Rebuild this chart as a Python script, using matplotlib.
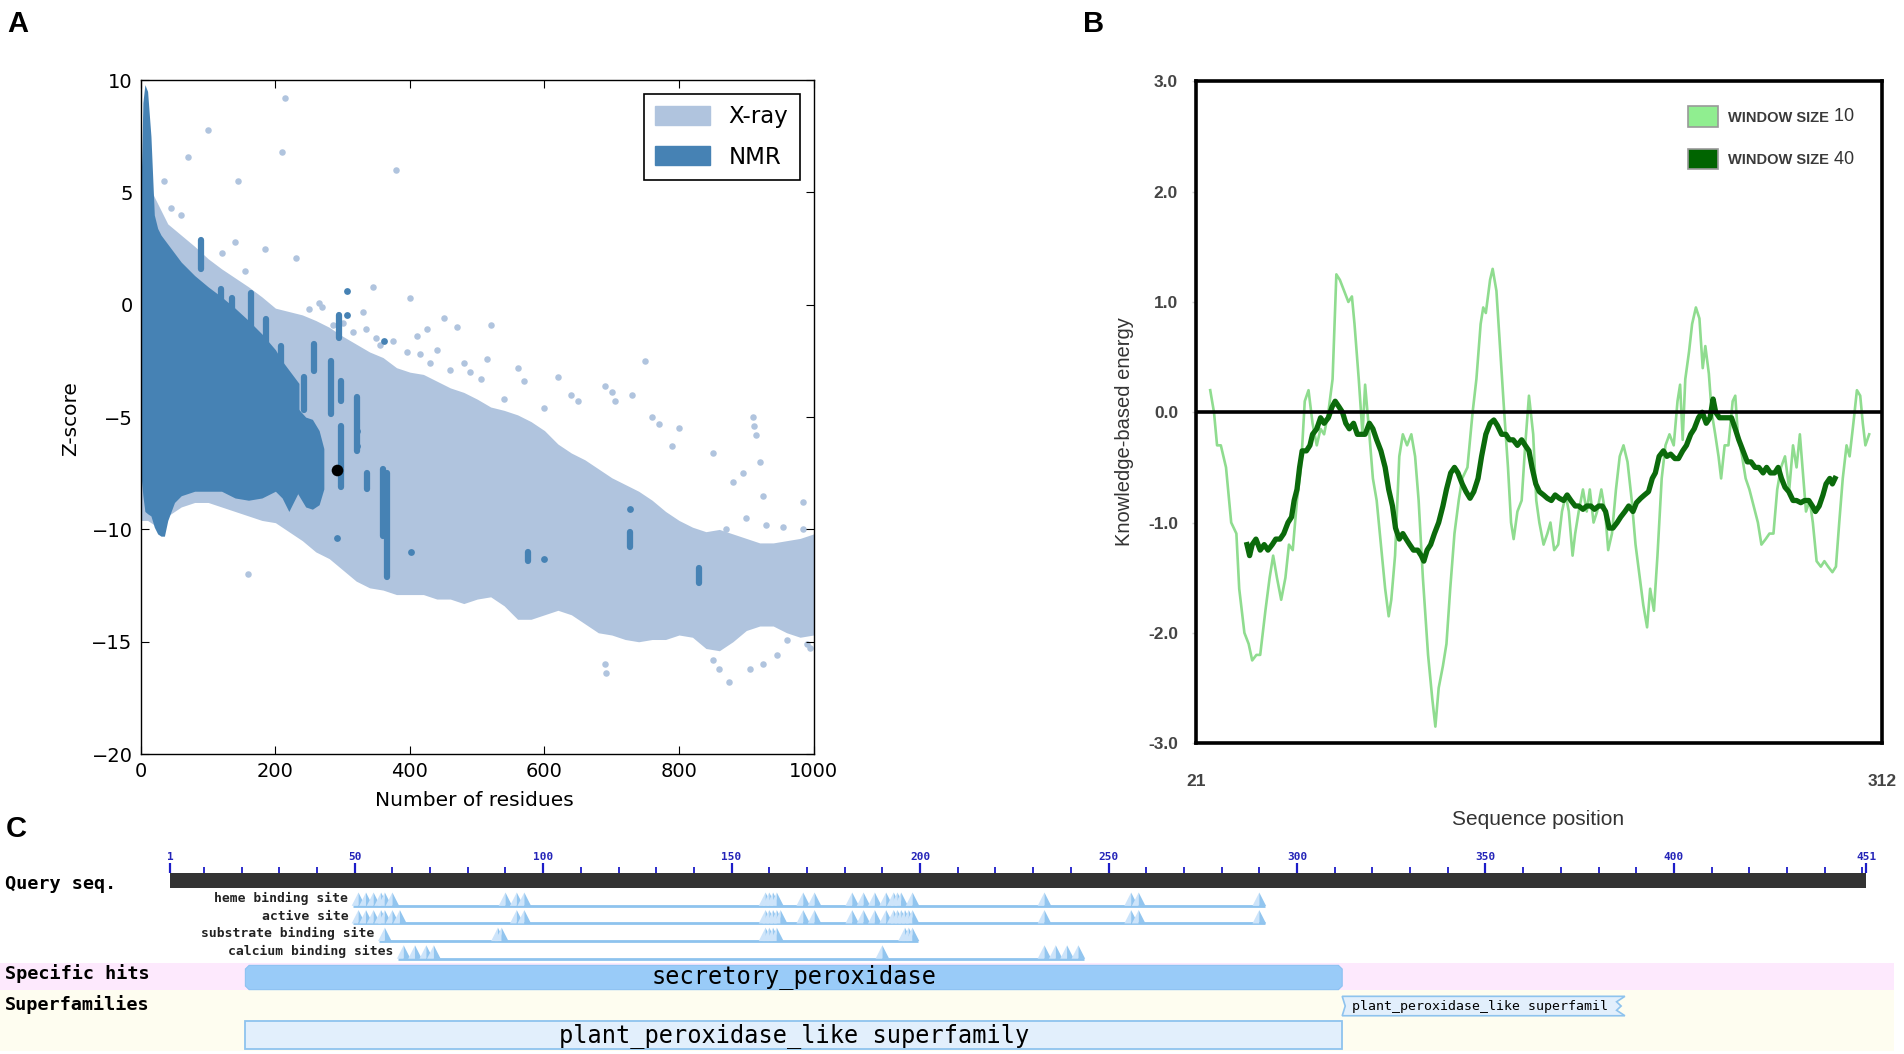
import matplotlib
matplotlib.use('Agg')
import matplotlib.pyplot as plt
from matplotlib.patches import Rectangle, Polygon, Patch

# ---------------- Panel A data (Z-score vs number of residues) ----------------
xray_x = [0, 10, 20, 40, 60, 80, 100, 120, 140, 160, 180, 200, 220, 240, 260, 280, 300,
          320, 340, 360, 380, 400, 420, 440, 460, 480, 500, 520, 540, 560, 580, 600, 620,
          640, 660, 680, 700, 720, 740, 760, 780, 800, 820, 840, 860, 880, 900, 920, 940,
          960, 980, 1000]
xray_upper = [5.0, 5.5, 4.8, 3.6, 3.1, 2.6, 2.05, 1.6, 1.2, 0.8, 0.35, -0.15, -0.3, -0.45,
              -0.7, -1.0, -1.4, -1.75, -2.1, -2.35, -2.8, -3.0, -3.1, -3.4, -3.7, -3.9, -4.2,
              -4.55, -4.7, -4.9, -5.2, -5.6, -6.2, -6.6, -6.9, -7.3, -7.7, -8.0, -8.3, -8.7,
              -9.2, -9.6, -9.9, -10.1, -10.0, -10.2, -10.4, -10.6, -10.6, -10.5, -10.4, -10.2]
xray_lower = [-9.6, -9.6, -9.8, -9.4, -9.0, -8.8, -8.8, -9.0, -9.2, -9.4, -9.6, -9.7, -10.1,
              -10.5, -11.0, -11.3, -11.8, -12.3, -12.6, -12.7, -12.9, -12.9, -12.9, -13.1,
              -13.1, -13.3, -13.1, -13.0, -13.4, -14.0, -14.0, -13.8, -13.6, -13.8, -14.2,
              -14.6, -14.7, -14.9, -15.0, -14.9, -14.9, -14.7, -14.8, -15.3, -15.4, -15.0,
              -14.5, -14.3, -14.3, -14.6, -14.8, -14.7]
xray_out_x = [215, 210, 100, 70, 380, 145, 35, 140, 230, 155, 185, 345, 400, 450, 470, 520,
              425, 415, 560, 570, 620, 640, 690, 700, 750, 705, 730, 760, 770, 790, 800, 850,
              880, 895, 910, 912, 914, 920, 925, 985, 160, 690, 691, 850, 860, 875, 905, 925,
              945, 960, 990, 995, 980, 960, 990, 1000, 940, 870, 900, 930, 955, 985, 600, 650,
              540, 480, 330, 300, 250, 120, 60, 45, 270, 285, 315, 335, 355, 375, 395, 410,
              430, 440, 460, 490, 505, 515, 265, 350]
xray_out_y = [9.2, 6.8, 7.8, 6.6, 6.0, 5.5, 5.5, 2.8, 2.1, 1.5, 2.5, 0.8, 0.3, -0.6, -1.0,
              -0.9, -1.1, -2.2, -2.8, -3.4, -3.2, -4.0, -3.6, -3.9, -2.5, -4.3, -4.0, -5.0,
              -5.3, -6.3, -5.5, -6.6, -7.9, -7.5, -5.0, -5.4, -5.8, -7.0, -8.5, -8.8, -12.0,
              -16.0, -16.4, -15.8, -16.2, -16.8, -16.2, -16.0, -15.6, -14.9, -15.1, -15.3,
              -13.5, -11.0, -11.5, -11.0, -12.0, -10.0, -9.5, -9.8, -9.9, -10.0, -4.6, -4.3,
              -4.2, -2.6, -0.3, -0.8, -0.2, 2.3, 4.0, 4.3, -0.1, -0.9, -1.2, -1.1, -1.8,
              -1.6, -2.1, -1.4, -2.6, -2.0, -2.9, -3.0, -3.3, -2.4, 0.1, -1.5]

nmr_x = [0, 3, 6, 10, 15, 20, 25, 30, 35, 40, 50, 60, 80, 100, 120, 140, 160, 180, 200,
         210, 220, 230, 235]
nmr_upper = [4.8, 9.0, 9.8, 9.5, 7.5, 4.0, 3.4, 3.1, 2.9, 2.7, 2.3, 1.9, 1.3, 0.8, 0.35,
             -0.15, -0.7, -1.3, -2.0, -2.5, -2.9, -3.3, -3.5]
nmr_lower = [-7.5, -8.5, -9.2, -9.3, -9.4, -9.9, -10.2, -10.3, -10.3, -9.6, -8.8, -8.5, -8.3,
             -8.3, -8.3, -8.6, -8.7, -8.6, -8.3, -8.6, -9.2, -8.6, -8.3]
nmr2_x = [233, 245, 255, 265, 272]
nmr2_upper = [-4.6, -5.0, -5.1, -5.6, -6.4]
nmr2_lower = [-8.4, -9.0, -9.1, -8.9, -8.2]
nmr_streak_x = [89, 119, 136, 163, 186, 208, 243, 257, 282, 295, 297, 297, 322, 336, 360, 366,
                727, 830, 575]
nmr_streak_lo = [1.6, -0.45, -0.8, -1.4, -2.1, -3.3, -4.7, -2.95, -4.85, -1.5, -4.3, -8.1,
                 -6.5, -8.2, -10.3, -12.1, -10.8, -12.4, -11.4]
nmr_streak_hi = [2.9, 0.7, 0.3, 0.54, -0.65, -1.85, -3.2, -1.75, -2.5, -0.45, -3.4, -5.4,
                 -4.1, -7.5, -7.3, -7.5, -10.1, -11.7, -11.0]
nmr_dot_x = [292, 307, 307, 361, 401, 600, 727, 322, 322]
nmr_dot_y = [-10.4, 0.6, -0.45, -1.6, -11.0, -11.3, -9.1, -5.6, -6.3]
target_x = [291]
target_y = [-7.35]

# ---------------- Panel B data (knowledge-based energy) ----------------
w10_x = [27.0, 28.6, 29.9, 31.5, 33.7, 35.9, 38.1, 39.3, 41.5, 43.3, 44.8, 46.6, 48.2, 50.4,
         52.2, 53.7, 55.3, 57.1, 58.9, 60.4, 62.0, 63.8, 65.5, 67.1, 68.7, 70.4, 72.2, 73.8,
         75.3, 77.1, 78.9, 80.5, 82.0, 83.8, 85.6, 87.1, 88.2, 90.0, 91.6, 92.7, 94.5, 96.0,
         97.6, 99.4, 101.2, 102.7, 103.8, 105.4, 107.2, 108.7, 110.5, 112.3, 113.9, 115.4,
         117.2, 119.4, 121.2, 122.5, 123.9, 125.7, 127.2, 128.8, 130.6, 132.4, 133.9, 136.1,
         138.3, 139.9, 141.7, 142.8, 143.9, 145.7, 146.8, 148.4, 149.9, 151.7, 153.3, 154.6,
         155.7, 157.3, 159.1, 160.6, 162.2, 164.0, 165.3, 166.6, 168.4, 170.0, 171.3, 172.9,
         174.6, 176.2, 177.8, 179.1, 180.7, 181.8, 183.3, 185.1, 186.7, 188.0, 189.6, 191.1,
         192.9, 194.5, 195.8, 197.4, 199.1, 200.7, 202.3, 204.0, 205.8, 207.4, 209.2, 210.7,
         212.3, 213.6, 215.2, 216.7, 218.5, 220.1, 221.8, 223.6, 225.2, 226.3, 227.4, 228.5,
         230.1, 231.4, 233.0, 234.5, 235.9, 237.0, 238.5, 239.7, 241.2, 242.6, 243.7, 245.2,
         246.8, 248.6, 249.7, 250.8, 252.6, 254.1, 255.7, 257.5, 259.3, 260.8, 262.6, 264.2,
         265.9, 267.5, 269.1, 270.8, 272.6, 274.2, 275.7, 277.1, 278.6, 279.7, 281.3, 282.6,
         284.2, 286.0, 287.5, 289.1, 290.9, 292.4, 293.8, 295.3, 296.9, 298.2, 299.8, 301.3,
         302.7, 303.8, 304.9, 306.5]
w10_y = [0.2, 0.0, -0.3, -0.3, -0.5, -1.0, -1.1, -1.6, -2.0, -2.1,
         -2.25, -2.2, -2.2, -1.8, -1.5, -1.3, -1.5, -1.7, -1.5, -1.2,
         -1.25, -0.8, -0.5, 0.1, 0.2, -0.1, -0.3, -0.15, -0.2, 0.0,
         0.3, 1.25, 1.2, 1.1, 1.0, 1.05, 0.8, 0.3, -0.2, 0.25,
         -0.2, -0.6, -0.8, -1.2, -1.6, -1.85, -1.7, -1.3, -0.4, -0.2,
         -0.3, -0.2, -0.4, -0.8, -1.5, -2.2, -2.6, -2.85, -2.5, -2.3,
         -2.1, -1.6, -1.1, -0.8, -0.6, -0.5, 0.0, 0.3, 0.8, 0.95,
         0.9, 1.2, 1.3, 1.1, 0.6, 0.0, -0.5, -1.0, -1.15, -0.9,
         -0.8, -0.3, 0.15, -0.2, -0.8, -1.0, -1.2, -1.1, -1.0, -1.25,
         -1.2, -0.9, -0.75, -0.9, -1.3, -1.1, -0.9, -0.7, -0.9, -0.7,
         -1.0, -0.9, -0.7, -0.9, -1.25, -1.1, -0.7, -0.4, -0.3, -0.45,
         -0.8, -1.2, -1.5, -1.75, -1.95, -1.6, -1.8, -1.3, -0.6, -0.3,
         -0.2, -0.3, 0.1, 0.25, -0.25, 0.3, 0.55, 0.8, 0.95, 0.85,
         0.4, 0.6, 0.35, 0.0, -0.2, -0.4, -0.6, -0.3, -0.3, 0.1,
         0.15, -0.2, -0.4, -0.6, -0.7, -0.85, -1.0, -1.2, -1.15, -1.1,
         -1.1, -0.7, -0.5, -0.4, -0.7, -0.3, -0.5, -0.2, -0.6, -0.9,
         -0.8, -1.0, -1.35, -1.4, -1.35, -1.4, -1.45, -1.4, -1.0, -0.6,
         -0.3, -0.4, -0.1, 0.2, 0.15, -0.1, -0.3, -0.2]
w40_x = [42.6, 43.7, 44.8, 46.4, 48.2, 49.9, 51.5, 53.3, 54.8, 56.6, 58.2, 60.0, 61.5, 62.6,
         63.8, 64.9, 66.0, 67.8, 69.3, 70.4, 72.2, 73.8, 75.3, 77.1, 78.7, 80.0, 81.6, 83.1,
         84.5, 86.0, 87.8, 89.4, 90.9, 92.7, 94.5, 96.0, 97.6, 99.4, 101.2, 102.7, 104.3,
         105.6, 107.2, 108.7, 110.1, 111.6, 113.2, 115.0, 116.5, 117.6, 119.0, 120.5, 122.1,
         123.9, 125.7, 127.2, 129.0, 130.6, 132.1, 133.9, 135.5, 137.2, 138.8, 140.6, 142.1,
         143.9, 145.7, 147.3, 148.8, 150.6, 152.4, 153.9, 155.5, 157.3, 159.1, 160.6, 162.2,
         163.5, 165.1, 166.6, 168.4, 170.0, 171.7, 173.3, 175.1, 176.9, 178.4, 180.0, 181.8,
         183.3, 185.1, 186.7, 188.4, 190.0, 191.8, 193.3, 194.7, 196.2, 197.8, 199.6, 201.1,
         202.9, 204.5, 206.3, 207.8, 209.6, 211.2, 212.9, 214.5, 215.8, 217.4, 219.2, 220.7,
         222.3, 224.1, 225.6, 227.4, 229.0, 230.8, 232.3, 234.1, 235.7, 237.4, 239.0, 240.3,
         241.4, 243.0, 244.6, 246.3, 248.1, 249.7, 251.2, 253.0, 254.8, 256.4, 258.1, 259.7,
         261.5, 263.0, 264.6, 266.4, 267.9, 269.3, 270.8, 272.4, 274.2, 275.7, 277.5, 279.1,
         280.9, 282.4, 283.7, 285.3, 286.9, 288.2, 289.8, 290.9, 292.0]
w40_y = [-1.2, -1.3, -1.2, -1.15, -1.25, -1.2, -1.25, -1.2, -1.15, -1.15,
         -1.1, -1.0, -0.95, -0.8, -0.7, -0.5, -0.35, -0.35, -0.3, -0.2,
         -0.15, -0.05, -0.1, -0.05, 0.05, 0.1, 0.05, 0.0, -0.1, -0.15,
         -0.1, -0.2, -0.2, -0.2, -0.1, -0.15, -0.25, -0.35, -0.5, -0.7,
         -0.85, -1.05, -1.15, -1.1, -1.15, -1.2, -1.25, -1.25, -1.3, -1.35,
         -1.25, -1.2, -1.1, -1.0, -0.85, -0.7, -0.55, -0.5, -0.55, -0.65,
         -0.72, -0.78, -0.72, -0.6, -0.4, -0.2, -0.1, -0.07, -0.12, -0.2,
         -0.2, -0.25, -0.25, -0.3, -0.25, -0.3, -0.35, -0.5, -0.65, -0.72,
         -0.75, -0.78, -0.8, -0.75, -0.78, -0.8, -0.75, -0.8, -0.85, -0.85,
         -0.88, -0.85, -0.85, -0.88, -0.85, -0.85, -0.9, -1.05, -1.05, -1.0,
         -0.95, -0.9, -0.85, -0.9, -0.82, -0.78, -0.75, -0.72, -0.6, -0.55,
         -0.4, -0.35, -0.4, -0.38, -0.42, -0.42, -0.35, -0.3, -0.2, -0.15,
         -0.05, 0.0, -0.1, -0.05, 0.12, 0.0, -0.05, -0.05, -0.05, -0.05,
         -0.15, -0.25, -0.35, -0.45, -0.45, -0.5, -0.5, -0.55, -0.5, -0.55,
         -0.55, -0.5, -0.6, -0.68, -0.72, -0.8, -0.8, -0.82, -0.8, -0.8,
         -0.85, -0.9, -0.85, -0.75, -0.65, -0.6, -0.65, -0.6]
b_yticks = [3.0, 2.0, 1.0, 0.0, -1.0, -2.0, -3.0]
b_xticks = [21, 312]

# ---------------- Panel C data (conserved domains) ----------------
seq_len = 451
ruler_labels = [1, 50, 100, 150, 200, 250, 300, 350, 400, 451]
ruler_minor = [r for r in range(10, 451, 10) if r % 50 != 0] + [450]
track_names = ['heme binding site', 'active site', 'substrate binding site', 'calcium binding sites']
track_sites = [
    [51, 53, 55, 57, 58, 60, 90, 93, 95, 159, 160, 161, 162, 169, 172, 182, 185, 188, 191,
     193, 194, 195, 198, 233, 256, 258, 290],
    [51, 53, 55, 57, 58, 60, 62, 93, 95, 159, 160, 161, 162, 163, 169, 172, 182, 185, 188,
     191, 193, 194, 195, 196, 197, 198, 233, 256, 258, 290],
    [58, 88, 89, 159, 160, 161, 162, 196, 197, 198],
    [63, 66, 69, 71, 190, 233, 236, 239, 242],
]
specific_hit = ('secretory_peroxidase', 21, 312)
superfamily_main = ('plant_peroxidase_like superfamily', 21, 312)
superfamily_small = ('plant_peroxidase_like superfamil', 312, 387)

# ---------------- layout helpers (reference grid 1568 x 868) ----------------
GW, GH = 1568.0, 868.0
def fx(px):
    return px / GW
def fy(py):
    return 1.0 - py / GH

fig = plt.figure(figsize=(19.04, 10.54), dpi=100)
fig.patch.set_facecolor('white')

XRAY_C = '#b0c4de'
NMR_C = '#4682b4'

# ================= Panel A =================
axA = fig.add_axes([fx(116), fy(621), fx(670) - fx(116), fy(66) - fy(621)])
axA.fill_between(xray_x, xray_lower, xray_upper, color=XRAY_C, lw=0, zorder=1)
axA.scatter(xray_out_x, xray_out_y, s=22, color=XRAY_C, lw=0, zorder=1)
axA.fill_between(nmr_x, nmr_lower, nmr_upper, color=NMR_C, lw=0, zorder=2)
axA.fill_between(nmr2_x, nmr2_lower, nmr2_upper, color=NMR_C, lw=0, zorder=2)
axA.vlines(nmr_streak_x, nmr_streak_lo, nmr_streak_hi, color=NMR_C, lw=4.5,
           capstyle='round', zorder=2)
axA.scatter(nmr_dot_x, nmr_dot_y, s=24, color=NMR_C, lw=0, zorder=2)
axA.scatter(target_x, target_y, s=70, color='black', lw=0, zorder=4)
axA.set_xlim(0, 1000)
axA.set_ylim(-20, 10)
axA.set_xticks([0, 200, 400, 600, 800, 1000])
axA.set_yticks([-20, -15, -10, -5, 0, 5, 10])
axA.set_yticklabels(['\u221220', '\u221215', '\u221210', '\u22125', '0', '5', '10'])
axA.tick_params(direction='in', top=True, right=True, length=6, width=0.8,
                labelsize=14, pad=6, colors='black')
for s in axA.spines.values():
    s.set_linewidth(1.0)
    s.set_color('black')
legA = axA.legend(handles=[Patch(facecolor=XRAY_C, edgecolor=XRAY_C, label='X-ray'),
                           Patch(facecolor=NMR_C, edgecolor=NMR_C, label='NMR')],
                  loc='upper right', fontsize=16.5, fancybox=False, framealpha=1,
                  edgecolor='black', handlelength=2.4, handleheight=0.9,
                  borderaxespad=0.6, labelspacing=0.75, handletextpad=0.8,
                  borderpad=0.5)
legA.get_frame().set_linewidth(1.2)
fig.text(fx(391), fy(659), 'Number of residues', fontsize=14.5, ha='center', va='center')
fig.text(fx(58), fy(345), 'Z-score', fontsize=14.5, ha='center', va='center', rotation=90)

# ================= Panel B =================
BF = ['Liberation Sans', 'DejaVu Sans']
axB = fig.add_axes([fx(985), fy(612), fx(1550) - fx(985), fy(67) - fy(612)])
axB.plot(w10_x, w10_y, color='#8fdc8f', lw=1.9, zorder=2)
axB.plot(w40_x, w40_y, color='#0b6a0b', lw=3.8, zorder=3, solid_joinstyle='round')
axB.axhline(0, color='black', lw=2.6, zorder=4)
axB.set_xlim(21, 312)
axB.set_ylim(-3, 3)
axB.set_yticks(b_yticks)
axB.set_yticklabels(['%.1f' % v for v in b_yticks], fontfamily=BF, fontweight='bold')
axB.set_xticks(b_xticks)
axB.set_xticklabels([str(v) for v in b_xticks], fontfamily=BF, fontweight='bold')
axB.tick_params(axis='y', length=3, width=1, color='#d0d0d0', pad=10, labelsize=12.5,
                labelcolor='#444444')
axB.tick_params(axis='x', length=0, pad=22, labelsize=12.5, labelcolor='#444444')
for s in axB.spines.values():
    s.set_linewidth(2.6)
    s.set_color('black')
fig.text(fx(926), fy(355), 'Knowledge-based energy', fontsize=14.5, ha='center', va='center',
         rotation=90, family=BF, color='#333333')
fig.text(fx(1267), fy(675), 'Sequence position', fontsize=15, ha='center', va='center',
         family=BF, color='#333333')
# legend (small caps style)
leg_items = [('#90ee90', '10', 96), ('#006400', '40', 131)]
for col, num, ypix in leg_items:
    y_ax = 1 - (ypix - 67) / (612 - 67)
    axB.add_patch(Rectangle(((1390 - 985) / 565.0, y_ax - 0.0155), 25 / 565.0, 0.031,
                            transform=axB.transAxes, facecolor=col, edgecolor='#999999',
                            lw=1.2, zorder=5))
    t = axB.text((1423 - 985) / 565.0, y_ax - 0.002, 'WINDOW SIZE', transform=axB.transAxes,
                 fontsize=10.5, family=BF, fontweight='bold', color='#3a3a3a',
                 ha='left', va='center', zorder=5)
    axB.annotate(' ' + num, xy=(1, -0.02), xycoords=t, fontsize=13, family=BF,
                 color='#333333', ha='left', va='bottom', zorder=5)

# panel letters
fig.text(fx(6), fy(20), 'A', fontsize=21, fontweight='bold', family=BF, ha='left', va='center')
fig.text(fx(892), fy(20), 'B', fontsize=21, fontweight='bold', family=BF, ha='left', va='center')
fig.text(fx(5), fy(683), 'C', fontsize=21, fontweight='bold', family=BF, ha='left', va='center')

# ================= Panel C =================
MONO = 'DejaVu Sans Mono'
def r_at(px):
    return 1 + (px - 140) / 3.104
axC = fig.add_axes([0, 0, 1, (GH - 668) / GH])
axC.set_xlim(r_at(0), r_at(GW))
axC.set_ylim(GH, 668)
axC.axis('off')

left_r, right_r = r_at(0), r_at(1560)
axC.add_patch(Rectangle((left_r, 793), right_r - left_r, 22.5, facecolor='#fde9fd',
                        edgecolor='none', zorder=0))
axC.add_patch(Rectangle((left_r, 815.5), right_r - left_r, 50, facecolor='#fefdf0',
                        edgecolor='none', zorder=0))

# ruler
axC.add_patch(Rectangle((1, 719), seq_len - 1, 12.5, facecolor='#333333', edgecolor='none',
                        zorder=2))
axC.vlines(ruler_minor, 714, 719, color='#1c1cc8', lw=1.3, zorder=2)
axC.vlines(ruler_labels, 710.5, 719, color='#1c1cc8', lw=1.6, zorder=2)
for r in ruler_labels:
    axC.text(r, 705.5, str(r), fontsize=8, family=MONO, fontweight='bold', color='#2424b8',
             ha='center', va='center')

rowfont = dict(fontsize=13.3, family=MONO, fontweight='bold', color='black',
               ha='left', va='center')
axC.text(r_at(4), 728, 'Query seq.', **rowfont)
axC.text(r_at(4), 802, 'Specific hits', **rowfont)
axC.text(r_at(4), 827, 'Superfamilies', **rowfont)

# feature tracks
line_ys = [746, 760.5, 775, 789.5]
for name, sites, ly in zip(track_names, track_sites, line_ys):
    start, end = min(sites) - 1.5, max(sites) + 1.5
    axC.hlines(ly, start, end, color='#8ec3ee', lw=2.0, zorder=2)
    for s in sites:
        axC.add_patch(Polygon([(s - 1.8, ly), (s, ly - 11), (s, ly)], closed=True,
                              facecolor='#cde4fa', edgecolor='none', zorder=3))
        axC.add_patch(Polygon([(s, ly - 11), (s + 1.8, ly), (s, ly)], closed=True,
                              facecolor='#92c5ef', edgecolor='none', zorder=3))
    axC.text(start - 1.2, ly - 6, name, fontsize=9.4, family=MONO, fontweight='bold',
             color='#222222', ha='right', va='center')

# specific hit bar
nm, a, b = specific_hit
axC.add_patch(Polygon([(a + 1.0, 795), (b - 1.0, 795), (b, 798), (b, 812), (b - 1.0, 815),
                       (a + 1.0, 815), (a, 812), (a, 798)], closed=True,
                      facecolor='#99cbf8', edgecolor='#8cc2f2', lw=0.8, zorder=2))
axC.text((a + b) / 2, 804, nm, fontsize=17, family=MONO, color='black',
         ha='center', va='center', zorder=3)

# superfamilies
nm, a, b = superfamily_main
axC.add_patch(Rectangle((a, 840.5), b - a, 23, facecolor='#e2effc', edgecolor='#8ec3ee',
                        lw=1.3, zorder=2))
axC.text((a + b) / 2, 852.5, nm, fontsize=17, family=MONO, color='black',
         ha='center', va='center', zorder=3)
nm, a, b = superfamily_small
axC.add_patch(Polygon([(a, 820.5), (b, 820.5), (b - 2.2, 825), (b - 1.0, 828.5),
                       (b - 2.2, 832), (b, 836.5), (a, 836.5), (a + 0.8, 828.5)], closed=True,
                      facecolor='#e2effc', edgecolor='#8ec3ee', lw=1.2, zorder=2))
axC.text(a + 2.5, 828.5, nm, fontsize=9.5, family=MONO, color='black',
         ha='left', va='center', zorder=3)

fig.savefig('out.png', dpi=100, facecolor='white')
